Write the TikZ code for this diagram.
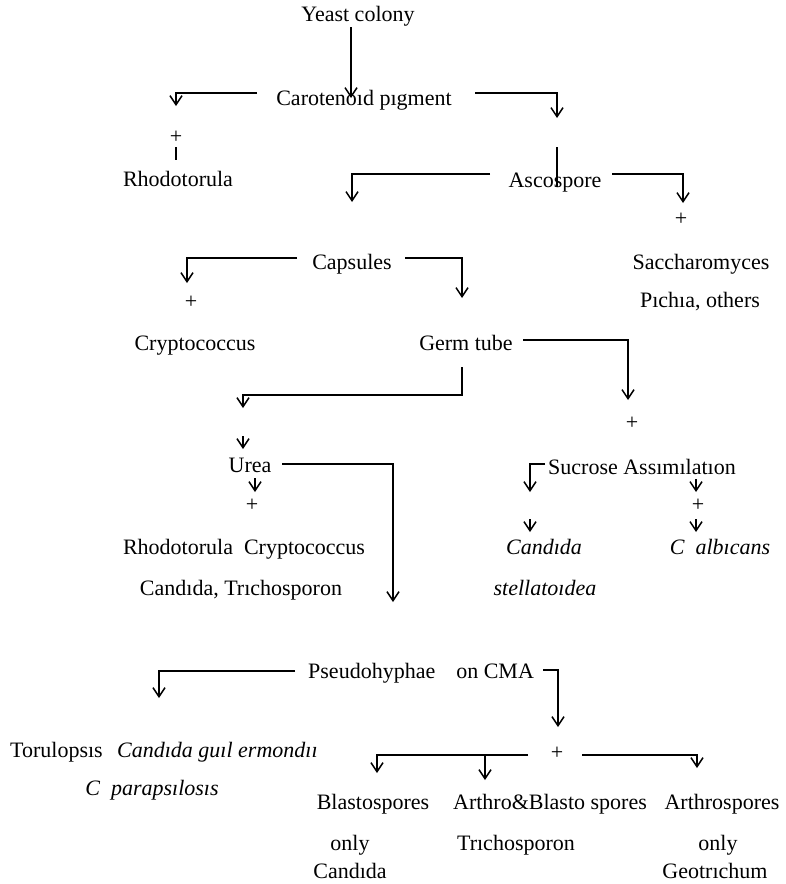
\documentclass[tikz,border=0pt]{standalone}
\usepackage{fontspec}
\setmainfont{Liberation Serif}
\usetikzlibrary{arrows.meta}
\begin{document}
\begin{tikzpicture}[x=1pt,y=-1pt,
  lbl/.style={inner sep=0pt, anchor=base, font=\fontsize{22}{26}\selectfont},
  ilbl/.style={lbl, font=\fontsize{22}{26}\selectfont\itshape},
  ln/.style={line width=1.4pt},
  arr/.style={ln, -{Straight Barb[length=9pt,width=12pt,line width=1.5pt]}},
]
\useasboundingbox (0,0) rectangle (785,884);
% ---------- texts ----------
\node[lbl] (yeast)   at (358,21)  {Yeast colony};
\node[lbl] (carot)   at (364,105) {Carotenoıd pıgment};
\node[lbl] (plus1)   at (176,143) {+};
\node[lbl] (rhodo1)  at (178,186) {Rhodotorula};
\node[lbl] (asco)    at (555,187) {Ascospore};
\node[lbl] (plus2)   at (681,225) {+};
\node[lbl] (sacch)   at (701,269) {Saccharomyces};
\node[lbl] (pichia)  at (700,307) {Pıchıa, others};
\node[lbl] (caps)    at (352,269) {Capsules};
\node[lbl] (plus3)   at (191,308) {+};
\node[lbl] (crypto)  at (195,350) {Cryptococcus};
\node[lbl] (germ)    at (466,350) {Germ tube};
\node[lbl] (plus4)   at (632,429) {+};
\node[lbl] (urea)    at (250,472) {Urea};
\node[lbl] (sucrose) at (642,474) {Sucrose Assımılatıon};
\node[lbl] (plus5)   at (252,511) {+};
\node[lbl] (plus6)   at (698,511) {+};
\node[lbl] (rc)      at (244,554) {Rhodotorula\ \ Cryptococcus};
\node[ilbl] (cand1)  at (544,554) {Candıda};
\node[ilbl] (calb)   at (720,554) {C\ \ albıcans};
\node[lbl] (ct)      at (241,595) {Candıda, Trıchosporon};
\node[ilbl] (stell)  at (545,595) {stellatoıdea};
\node[lbl, anchor=base west] (pseudo) at (308,678) {Pseudohyphae\hspace{21pt}on CMA};
\node[lbl] (plus7)   at (557,759) {+};
\node[lbl, anchor=base west] (toru) at (10,757) {Torulopsıs};
\node[ilbl, anchor=base west] (cguil) at (117,757) {Candıda guıl ermondıı};
\node[ilbl] (cpara)  at (152,795) {C\ \ parapsılosıs};
\node[lbl] (blasto)  at (373,809) {Blastospores};
\node[lbl] (ab)      at (550,809) {Arthro\&Blasto spores};
\node[lbl] (arthro)  at (722,809) {Arthrospores};
\node[lbl] (only1)   at (350,850) {only};
\node[lbl] (trich)   at (516,850) {Trıchosporon};
\node[lbl] (only2)   at (718,850) {only};
\node[lbl] (cand2)   at (350,878) {Candıda};
\node[lbl] (geo)     at (715,878) {Geotrıchum};
% ---------- connector points ----------
\coordinate (a1) at (351,27);  \coordinate (a2) at (351,98);
\coordinate (b1) at (257,93);  \coordinate (b2) at (176,93);  \coordinate (b3) at (176,106);
\coordinate (c1) at (475,93);  \coordinate (c2) at (557,93);  \coordinate (c3) at (557,118);
\coordinate (d1) at (176,147); \coordinate (d2) at (176,160);
\coordinate (e1) at (557,147); \coordinate (e2) at (557,187);
\coordinate (f1) at (490,174); \coordinate (f2) at (352,174); \coordinate (f3) at (352,202);
\coordinate (g1) at (612,174); \coordinate (g2) at (683,174); \coordinate (g3) at (683,203);
\coordinate (h1) at (297,258); \coordinate (h2) at (187,258); \coordinate (h3) at (187,283);
\coordinate (i1) at (405,258); \coordinate (i2) at (462,258); \coordinate (i3) at (462,298);
\coordinate (j1) at (462,367); \coordinate (j2) at (462,395); \coordinate (j3) at (243,395); \coordinate (j4) at (243,408);
\coordinate (k1) at (243,436); \coordinate (k2) at (243,449);
\coordinate (l1) at (255,478); \coordinate (l2) at (255,492);
\coordinate (m1) at (282,464); \coordinate (m2) at (393,464); \coordinate (m3) at (393,602);
\coordinate (n1) at (523,340); \coordinate (n2) at (628,340); \coordinate (n3) at (628,400);
\coordinate (o1) at (545,464); \coordinate (o2) at (530,464); \coordinate (o3) at (530,492);
\coordinate (p1) at (696,479); \coordinate (p2) at (696,492);
\coordinate (q1) at (696,519); \coordinate (q2) at (696,532);
\coordinate (r1) at (530,519); \coordinate (r2) at (530,532);
\coordinate (s1) at (295,671); \coordinate (s2) at (159,671); \coordinate (s3) at (159,698);
\coordinate (t1) at (543,670); \coordinate (t2) at (558,670); \coordinate (t3) at (558,727);
\coordinate (u1) at (528,755); \coordinate (u2) at (377,755); \coordinate (u3) at (377,773);
\coordinate (v1) at (485,755); \coordinate (v2) at (485,780);
\coordinate (w1) at (582,755); \coordinate (w2) at (697,755); \coordinate (w3) at (697,768);
% ---------- connectors ----------
\draw[arr] (a1) -- (a2);
\draw[arr] (b1) -- (b2) -- (b3);
\draw[arr] (c1) -- (c2) -- (c3);
\draw[ln]  (d1) -- (d2);
\draw[ln]  (e1) -- (e2);
\draw[arr] (f1) -- (f2) -- (f3);
\draw[arr] (g1) -- (g2) -- (g3);
\draw[arr] (h1) -- (h2) -- (h3);
\draw[arr] (i1) -- (i2) -- (i3);
\draw[arr] (j1) -- (j2) -- (j3) -- (j4);
\draw[arr] (k1) -- (k2);
\draw[arr] (l1) -- (l2);
\draw[arr] (m1) -- (m2) -- (m3);
\draw[arr] (n1) -- (n2) -- (n3);
\draw[arr] (o1) -- (o2) -- (o3);
\draw[arr] (p1) -- (p2);
\draw[arr] (q1) -- (q2);
\draw[arr] (r1) -- (r2);
\draw[arr] (s1) -- (s2) -- (s3);
\draw[arr] (t1) -- (t2) -- (t3);
\draw[arr] (u1) -- (u2) -- (u3);
\draw[arr] (v1) -- (v2);
\draw[arr] (w1) -- (w2) -- (w3);
\end{tikzpicture}
\end{document}
